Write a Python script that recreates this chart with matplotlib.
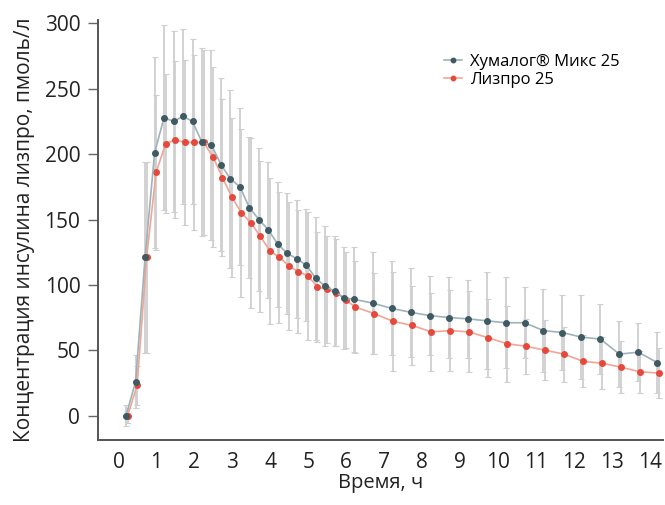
import numpy as np
import matplotlib
matplotlib.use("Agg")
import matplotlib.pyplot as plt

plt.rcParams['font.family'] = ['Open Sans', 'DejaVu Sans']

# время, ч
t = [0.2, 0.45, 0.7, 0.95, 1.2, 1.45, 1.7, 1.95, 2.2, 2.45, 2.7, 2.95, 3.2, 3.45,
     3.7, 3.95, 4.2, 4.45, 4.7, 4.95, 5.2, 5.45, 5.7, 5.95, 6.2, 6.7, 7.2, 7.7,
     8.2, 8.7, 9.2, 9.7, 10.2, 10.7, 11.2, 11.7, 12.2, 12.7, 13.2, 13.7, 14.2]

# Хумалог Микс 25
mix = [0, 26, 121, 201, 228, 225, 229, 225, 209, 207, 192, 181, 175, 159,
       150, 142, 131, 124, 120, 115, 105, 99, 95, 90, 89, 86, 82, 79,
       76.5, 75, 74, 72.5, 71, 71, 65, 63.5, 60, 58.5, 47, 48.5, 40.5]
mix_sd = [8, 20, 73, 73, 71, 69, 67, 63, 72, 73, 66, 68, 60, 54,
          55, 52, 48, 46, 45, 43, 47, 46, 42, 39, 40, 39, 36, 34,
          30, 31, 30, 37, 35, 27, 32, 28.5, 32, 27, 25, 22, 23.5]

# Лизпро 25
lis = [0, 23, 121, 186, 208, 211, 209, 209, 209, 198, 182, 167, 155, 147.5,
       137, 126, 121, 114.5, 110, 107, 98.5, 96.5, 94, 88.5, 83, 78, 72, 69,
       64, 65, 64, 59.5, 55, 53, 50, 47, 41.5, 40, 37, 33.5, 32.5]
lis_sd = [6, 15, 73, 59, 53, 60, 63, 67, 71, 69, 60, 61, 64, 65,
          58, 56, 50, 49, 47, 49, 42, 41, 41, 37, 35, 31, 38, 30,
          30, 31, 31, 30, 29, 21, 23, 21, 20, 20, 20, 16, 19]

t = np.array(t)
fig = plt.figure(figsize=(6.65, 5.05), dpi=100)
ax = fig.add_axes([0.148, 0.129, 0.849, 0.831])

bar_col = '#cfcfcf'
ax.errorbar(t, mix, yerr=mix_sd, fmt='none', ecolor=bar_col, elinewidth=1.3,
            capsize=2, capthick=0.8, zorder=1)
ax.errorbar(t + 0.04, lis, yerr=lis_sd, fmt='none', ecolor=bar_col, elinewidth=1.3,
            capsize=2, capthick=0.8, zorder=1)

ax.plot(t + 0.04, lis, color='#f2a595', lw=1.2, marker='o', ms=4,
        mfc='#e5493b', mec='#e5493b', zorder=3, label='Лизпро 25')
ax.plot(t, mix, color='#9db3b8', lw=1.2, marker='o', ms=4,
        mfc='#3f5a63', mec='#3f5a63', zorder=4, label='Хумалог® Микс 25')

ax.set_xlim(-0.53, 14.35)
ax.set_ylim(-18.6, 302.5)
ax.set_xticks(range(0, 15))
ax.set_yticks(range(0, 301, 50))
ax.tick_params(axis='x', length=0, pad=9, labelsize=15, colors='#222222')
ax.tick_params(axis='y', length=7, width=1, color='#666666', pad=6,
               labelsize=15, labelcolor='#222222')
for s in ['top', 'right']:
    ax.spines[s].set_visible(False)
for s in ['left', 'bottom']:
    ax.spines[s].set_color('#555555')
    ax.spines[s].set_linewidth(1.4)

ax.set_xlabel('Время, ч', fontsize=14.5, color='#222222', labelpad=0)
ax.set_ylabel('Концентрация инсулина лизпро, пмоль/л', fontsize=15,
              color='#222222', labelpad=7)

h, l = ax.get_legend_handles_labels()
ax.legend(h[::-1], l[::-1], loc='upper left', bbox_to_anchor=(0.585, 0.955),
          frameon=False, fontsize=12, handlelength=1.1, handletextpad=0.5,
          labelspacing=0.1, markerscale=0.8)

fig.savefig('out.png', dpi=100)
